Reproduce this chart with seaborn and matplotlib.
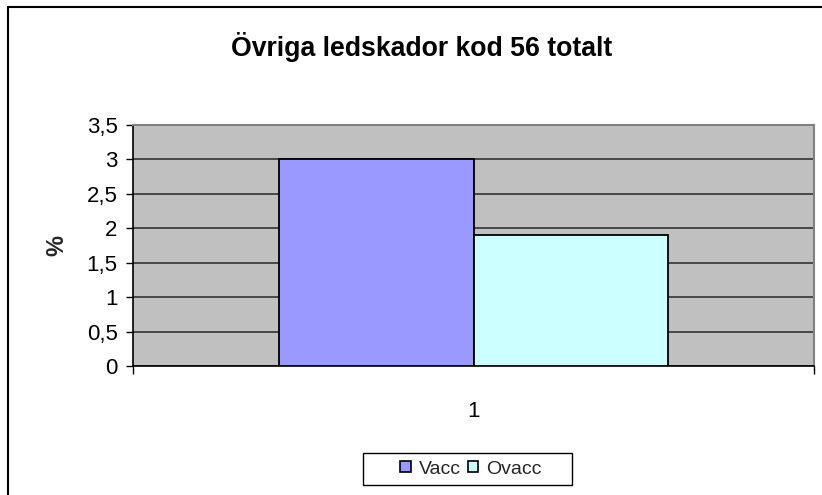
import matplotlib
matplotlib.use("Agg")
import matplotlib.pyplot as plt
import seaborn as sns
import pandas as pd
from matplotlib.patches import Rectangle, Patch
from matplotlib.ticker import FuncFormatter, MultipleLocator

categories = ["1"]
series = ["Vacc", "Ovacc"]
values = [3.0, 1.9]
colors = ["#9999FF", "#CCFFFF"]
title = "Övriga ledskador kod 56 totalt"
ylabel = "%"

sns.set_theme(style="white")
plt.rcParams["font.family"] = ["Liberation Sans", "DejaVu Sans"]

df = pd.DataFrame({"cat": categories * len(series), "series": series, "value": values})

fig = plt.figure(figsize=(8.22, 4.95), dpi=100)
ax = fig.add_axes([133 / 822, 1 - 366 / 495, (814 - 133) / 822, (366 - 125) / 495])

sns.barplot(data=df, x="cat", y="value", hue="series", hue_order=series,
            palette=colors, width=0.571, edgecolor="black", linewidth=1.3,
            saturation=1, ax=ax, legend=False, zorder=3)

ax.set_facecolor("#C0C0C0")
ax.set_xlim(-0.5, 0.5)
ax.set_ylim(0, 3.5)
ax.yaxis.set_major_locator(MultipleLocator(0.5))
ax.yaxis.set_major_formatter(FuncFormatter(lambda v, p: ("%g" % v).replace(".", ",")))
ax.grid(axis="y", color="#333333", linewidth=1.2, zorder=1)
ax.set_axisbelow(True)

for s in ["top", "right"]:
    ax.spines[s].set_color("#808080")
    ax.spines[s].set_linewidth(1.5)
for s in ["left", "bottom"]:
    ax.spines[s].set_color("black")
    ax.spines[s].set_linewidth(1.2)

ax.tick_params(axis="y", which="major", direction="out", length=5, width=1,
               color="black", labelsize=16, pad=6, left=True)
ax.tick_params(axis="x", which="major", length=0, labelsize=16, pad=25)
ax.tick_params(axis="x", which="minor", direction="out", length=6, width=1,
               color="black", bottom=True)
ax.set_xticks([-0.5, 0.5], minor=True)
ax.set_xlabel("")
ax.set_ylabel(ylabel, fontsize=17, fontweight="bold", labelpad=13)
for lab in ax.get_yticklabels() + ax.get_xticklabels():
    lab.set_color("black")

fig.text(422 / 822, 1 - 47 / 495, title, ha="center", va="center",
         fontsize=19.2, fontweight="bold", color="black")

handles = [Patch(facecolor=c, edgecolor="black", linewidth=1.2, label=s)
           for s, c in zip(series, colors)]
leg = fig.legend(handles=handles, loc="center", bbox_to_anchor=(471 / 822, 1 - 469 / 495),
                 ncol=2, frameon=False, fontsize=14, handlelength=0.55, handleheight=0.55,
                 handletextpad=0.4, columnspacing=0.35, borderpad=0.3)

fig.patches.append(Rectangle((363 / 822, 1 - 485 / 495), (572 - 363) / 822, 32 / 495,
                             transform=fig.transFigure, fill=False,
                             edgecolor="black", linewidth=1.0))

fig.patches.append(Rectangle((8 / 822, -0.05), 1.0, 1 - 7 / 495 + 0.05,
                             transform=fig.transFigure, fill=False,
                             edgecolor="black", linewidth=1.5))

fig.savefig("out.png", dpi=100)
